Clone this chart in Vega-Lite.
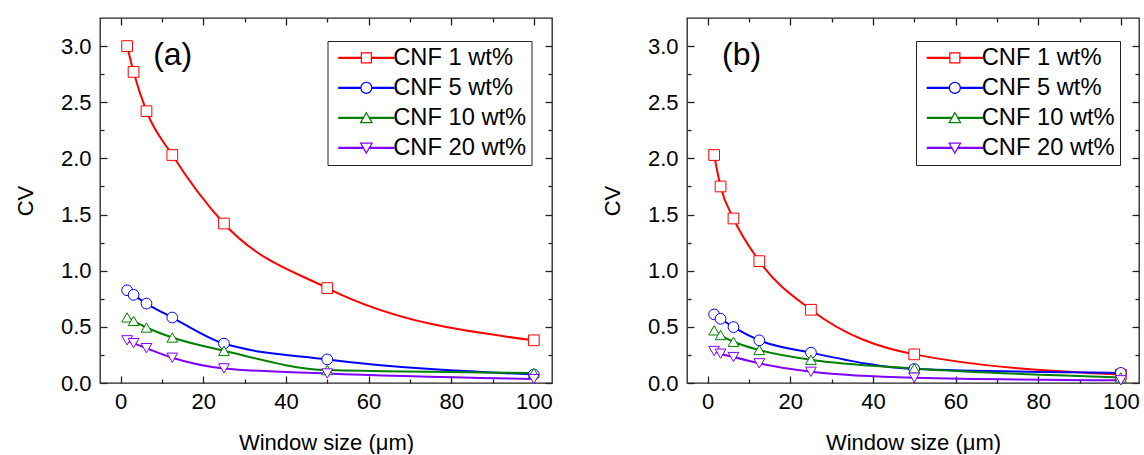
{
"$schema": "https://vega.github.io/schema/vega-lite/v6.json",
"padding": {"left": 13, "top": 16, "right": 0, "bottom": 0},
"background": "white",
"datasets": {"cv": [
{"panel":"a","series":"CNF 1 wt%","w":1.5625,"cv":3.0},
{"panel":"a","series":"CNF 1 wt%","w":3.125,"cv":2.77},
{"panel":"a","series":"CNF 1 wt%","w":6.25,"cv":2.42},
{"panel":"a","series":"CNF 1 wt%","w":12.5,"cv":2.03},
{"panel":"a","series":"CNF 1 wt%","w":25,"cv":1.42},
{"panel":"a","series":"CNF 1 wt%","w":50,"cv":0.845},
{"panel":"a","series":"CNF 1 wt%","w":100,"cv":0.38},
{"panel":"a","series":"CNF 5 wt%","w":1.5625,"cv":0.826},
{"panel":"a","series":"CNF 5 wt%","w":3.125,"cv":0.785},
{"panel":"a","series":"CNF 5 wt%","w":6.25,"cv":0.707},
{"panel":"a","series":"CNF 5 wt%","w":12.5,"cv":0.583},
{"panel":"a","series":"CNF 5 wt%","w":25,"cv":0.351},
{"panel":"a","series":"CNF 5 wt%","w":50,"cv":0.21},
{"panel":"a","series":"CNF 5 wt%","w":100,"cv":0.075},
{"panel":"a","series":"CNF 10 wt%","w":1.5625,"cv":0.584},
{"panel":"a","series":"CNF 10 wt%","w":3.125,"cv":0.553},
{"panel":"a","series":"CNF 10 wt%","w":6.25,"cv":0.494},
{"panel":"a","series":"CNF 10 wt%","w":12.5,"cv":0.405},
{"panel":"a","series":"CNF 10 wt%","w":25,"cv":0.287},
{"panel":"a","series":"CNF 10 wt%","w":50,"cv":0.115},
{"panel":"a","series":"CNF 10 wt%","w":100,"cv":0.09},
{"panel":"a","series":"CNF 20 wt%","w":1.5625,"cv":0.38},
{"panel":"a","series":"CNF 20 wt%","w":3.125,"cv":0.355},
{"panel":"a","series":"CNF 20 wt%","w":6.25,"cv":0.31},
{"panel":"a","series":"CNF 20 wt%","w":12.5,"cv":0.225},
{"panel":"a","series":"CNF 20 wt%","w":25,"cv":0.13},
{"panel":"a","series":"CNF 20 wt%","w":50,"cv":0.085},
{"panel":"a","series":"CNF 20 wt%","w":100,"cv":0.035},
{"panel":"b","series":"CNF 1 wt%","w":1.5625,"cv":2.03},
{"panel":"b","series":"CNF 1 wt%","w":3.125,"cv":1.75},
{"panel":"b","series":"CNF 1 wt%","w":6.25,"cv":1.465},
{"panel":"b","series":"CNF 1 wt%","w":12.5,"cv":1.085},
{"panel":"b","series":"CNF 1 wt%","w":25,"cv":0.652},
{"panel":"b","series":"CNF 1 wt%","w":50,"cv":0.255},
{"panel":"b","series":"CNF 1 wt%","w":100,"cv":0.075},
{"panel":"b","series":"CNF 5 wt%","w":1.5625,"cv":0.611},
{"panel":"b","series":"CNF 5 wt%","w":3.125,"cv":0.572},
{"panel":"b","series":"CNF 5 wt%","w":6.25,"cv":0.498},
{"panel":"b","series":"CNF 5 wt%","w":12.5,"cv":0.38},
{"panel":"b","series":"CNF 5 wt%","w":25,"cv":0.27},
{"panel":"b","series":"CNF 5 wt%","w":50,"cv":0.125},
{"panel":"b","series":"CNF 5 wt%","w":100,"cv":0.09},
{"panel":"b","series":"CNF 10 wt%","w":1.5625,"cv":0.469},
{"panel":"b","series":"CNF 10 wt%","w":3.125,"cv":0.427},
{"panel":"b","series":"CNF 10 wt%","w":6.25,"cv":0.367},
{"panel":"b","series":"CNF 10 wt%","w":12.5,"cv":0.294},
{"panel":"b","series":"CNF 10 wt%","w":25,"cv":0.207},
{"panel":"b","series":"CNF 10 wt%","w":50,"cv":0.13},
{"panel":"b","series":"CNF 10 wt%","w":100,"cv":0.05},
{"panel":"b","series":"CNF 20 wt%","w":1.5625,"cv":0.285},
{"panel":"b","series":"CNF 20 wt%","w":3.125,"cv":0.261},
{"panel":"b","series":"CNF 20 wt%","w":6.25,"cv":0.231},
{"panel":"b","series":"CNF 20 wt%","w":12.5,"cv":0.175},
{"panel":"b","series":"CNF 20 wt%","w":25,"cv":0.1},
{"panel":"b","series":"CNF 20 wt%","w":50,"cv":0.047},
{"panel":"b","series":"CNF 20 wt%","w":100,"cv":0.024}
]},
"hconcat": [
{
"width": 452, "height": 365,
"layer": [
{"data": {"name": "cv"}, "transform": [{"filter": "datum.panel === 'a'"}],
 "mark": {"type": "line", "interpolate": "monotone", "strokeWidth": 2},
 "encoding": {
  "x": {"field": "w", "type": "quantitative", "scale": {"domain": [-5, 104.4], "nice": false, "zero": false},
        "axis": {"orient": "bottom", "values": [0,20,40,60,80,100], "format": "d", "tickSize": -7, "labelPadding": 15, "title": "Window size (μm)", "titlePadding": 20}},
  "y": {"field": "cv", "type": "quantitative", "scale": {"domain": [0, 3.25], "nice": false},
        "axis": {"orient": "left", "values": [0,0.5,1,1.5,2,2.5,3], "format": ".1f", "tickSize": -7, "labelPadding": 16, "title": "CV", "titlePadding": 23}},
  "stroke": {"field": "series", "type": "nominal", "scale": {"domain": ["CNF 1 wt%","CNF 5 wt%","CNF 10 wt%","CNF 20 wt%"], "range": ["#FF0000","#0000FF","#008000","#8000FF"]}, "legend": null}
 }},
{"data": {"name": "cv"}, "transform": [{"filter": "datum.panel === 'a'"}],
 "mark": {"type": "point", "filled": true, "fill": "white", "strokeWidth": 1, "opacity": 1, "size": 115},
 "encoding": {
  "x": {"field": "w", "type": "quantitative", "axis": {"orient": "bottom", "values": [10,30,50,70,90], "tickSize": -4, "labels": false, "title": null}},
  "y": {"field": "cv", "type": "quantitative", "axis": {"orient": "left", "values": [0.25,0.75,1.25,1.75,2.25,2.75], "tickSize": -4, "labels": false, "title": null}},
  "stroke": {"field": "series", "type": "nominal", "legend": null},
  "shape": {"field": "series", "type": "nominal", "scale": {"domain": ["CNF 1 wt%","CNF 5 wt%","CNF 10 wt%","CNF 20 wt%"], "range": ["square","circle","triangle-up","triangle-down"]}, "legend": null}
 }},
{"data": {"name": "cv"}, "transform": [{"filter": "datum.panel === 'a'"}],
 "mark": {"type": "point", "filled": false, "opacity": 0, "size": 100},
 "encoding": {
  "x": {"field": "w", "type": "quantitative", "axis": {"orient": "top", "values": [0,20,40,60,80,100], "tickSize": -7, "labels": false, "title": null}},
  "y": {"field": "cv", "type": "quantitative", "axis": {"orient": "right", "values": [0,0.5,1,1.5,2,2.5,3], "tickSize": -7, "labels": false, "title": null}},
  "color": {"field": "series", "type": "nominal", "scale": {"domain": ["CNF 1 wt%","CNF 5 wt%","CNF 10 wt%","CNF 20 wt%"], "range": ["#FF0000","#0000FF","#008000","#8000FF"]},
    "legend": {"title": null, "orient": "none", "legendX": 227.5, "legendY": 23, "strokeColor": "#222", "fillColor": "white", "padding": 5, "rowPadding": 5, "symbolOffset": 22, "labelOffset": 15, "labelFontSize": 23.7, "labelFont": "Liberation Sans", "labelColor": "black", "symbolStrokeWidth": 1.2, "symbolSize": 100, "symbolOpacity": 1, "labelLimit": 300}},
  "shape": {"field": "series", "type": "nominal", "scale": {"domain": ["CNF 1 wt%","CNF 5 wt%","CNF 10 wt%","CNF 20 wt%"], "range": [
     "M-5.5,-0.1H-1V0.1H-5.5Z M1,-0.1H5.5V0.1H1Z M-1,-1H1V1H-1Z",
     "M-5.5,-0.1H-1.1V0.1H-5.5Z M1.1,-0.1H5.5V0.1H1.1Z M-1.1,0A1.1,1.1,0,1,0,1.1,0A1.1,1.1,0,1,0,-1.1,0Z",
     "M-5.5,-0.1H-0.6V0.1H-5.5Z M0.6,-0.1H5.5V0.1H0.6Z M0,-1.05L-1.15,0.95L1.15,0.95Z",
     "M-5.5,-0.1H-0.6V0.1H-5.5Z M0.6,-0.1H5.5V0.1H0.6Z M0,1.05L-1.15,-0.95L1.15,-0.95Z"]},
    "legend": {"title": null, "orient": "none", "legendX": 227.5, "legendY": 23, "strokeColor": "#222", "fillColor": "white", "padding": 5, "rowPadding": 5, "symbolOffset": 22, "labelOffset": 15, "labelFontSize": 23.7, "labelFont": "Liberation Sans", "labelColor": "black", "symbolStrokeWidth": 1.2, "symbolSize": 100, "symbolOpacity": 1, "labelLimit": 300}}
 }},
{"data": {"values": [{}]},
 "mark": {"type": "text", "text": "(a)", "fontSize": 32, "align": "center", "baseline": "middle", "font": "Liberation Sans", "color": "black"},
 "encoding": {
  "x": {"datum": 12.6, "type": "quantitative", "axis": {"orient": "top", "values": [10,30,50,70,90], "tickSize": -4, "labels": false, "title": null}},
  "y": {"datum": 2.92, "type": "quantitative", "axis": {"orient": "right", "values": [0.25,0.75,1.25,1.75,2.25,2.75], "tickSize": -4, "labels": false, "title": null}}
 }}
],
"resolve": {"scale": {"shape": "independent", "color": "independent"}, "axis": {"x": "independent", "y": "independent"}}
},
{
"width": 452, "height": 365,
"layer": [
{"data": {"name": "cv"}, "transform": [{"filter": "datum.panel === 'b'"}],
 "mark": {"type": "line", "interpolate": "monotone", "strokeWidth": 2},
 "encoding": {
  "x": {"field": "w", "type": "quantitative", "scale": {"domain": [-5, 104.4], "nice": false, "zero": false},
        "axis": {"orient": "bottom", "values": [0,20,40,60,80,100], "format": "d", "tickSize": -7, "labelPadding": 15, "title": "Window size (μm)", "titlePadding": 20}},
  "y": {"field": "cv", "type": "quantitative", "scale": {"domain": [0, 3.25], "nice": false},
        "axis": {"orient": "left", "values": [0,0.5,1,1.5,2,2.5,3], "format": ".1f", "tickSize": -7, "labelPadding": 16, "title": "CV", "titlePadding": 23}},
  "stroke": {"field": "series", "type": "nominal", "scale": {"domain": ["CNF 1 wt%","CNF 5 wt%","CNF 10 wt%","CNF 20 wt%"], "range": ["#FF0000","#0000FF","#008000","#8000FF"]}, "legend": null}
 }},
{"data": {"name": "cv"}, "transform": [{"filter": "datum.panel === 'b'"}],
 "mark": {"type": "point", "filled": true, "fill": "white", "strokeWidth": 1, "opacity": 1, "size": 115},
 "encoding": {
  "x": {"field": "w", "type": "quantitative", "axis": {"orient": "bottom", "values": [10,30,50,70,90], "tickSize": -4, "labels": false, "title": null}},
  "y": {"field": "cv", "type": "quantitative", "axis": {"orient": "left", "values": [0.25,0.75,1.25,1.75,2.25,2.75], "tickSize": -4, "labels": false, "title": null}},
  "stroke": {"field": "series", "type": "nominal", "legend": null},
  "shape": {"field": "series", "type": "nominal", "scale": {"domain": ["CNF 1 wt%","CNF 5 wt%","CNF 10 wt%","CNF 20 wt%"], "range": ["square","circle","triangle-up","triangle-down"]}, "legend": null}
 }},
{"data": {"name": "cv"}, "transform": [{"filter": "datum.panel === 'b'"}],
 "mark": {"type": "point", "filled": false, "opacity": 0, "size": 100},
 "encoding": {
  "x": {"field": "w", "type": "quantitative", "axis": {"orient": "top", "values": [0,20,40,60,80,100], "tickSize": -7, "labels": false, "title": null}},
  "y": {"field": "cv", "type": "quantitative", "axis": {"orient": "right", "values": [0,0.5,1,1.5,2,2.5,3], "tickSize": -7, "labels": false, "title": null}},
  "color": {"field": "series", "type": "nominal", "scale": {"domain": ["CNF 1 wt%","CNF 5 wt%","CNF 10 wt%","CNF 20 wt%"], "range": ["#FF0000","#0000FF","#008000","#8000FF"]},
    "legend": {"title": null, "orient": "none", "legendX": 229, "legendY": 23, "strokeColor": "#222", "fillColor": "white", "padding": 5, "rowPadding": 5, "symbolOffset": 22, "labelOffset": 15, "labelFontSize": 23.7, "labelFont": "Liberation Sans", "labelColor": "black", "symbolStrokeWidth": 1.2, "symbolSize": 100, "symbolOpacity": 1, "labelLimit": 300}},
  "shape": {"field": "series", "type": "nominal", "scale": {"domain": ["CNF 1 wt%","CNF 5 wt%","CNF 10 wt%","CNF 20 wt%"], "range": [
     "M-5.5,-0.1H-1V0.1H-5.5Z M1,-0.1H5.5V0.1H1Z M-1,-1H1V1H-1Z",
     "M-5.5,-0.1H-1.1V0.1H-5.5Z M1.1,-0.1H5.5V0.1H1.1Z M-1.1,0A1.1,1.1,0,1,0,1.1,0A1.1,1.1,0,1,0,-1.1,0Z",
     "M-5.5,-0.1H-0.6V0.1H-5.5Z M0.6,-0.1H5.5V0.1H0.6Z M0,-1.05L-1.15,0.95L1.15,0.95Z",
     "M-5.5,-0.1H-0.6V0.1H-5.5Z M0.6,-0.1H5.5V0.1H0.6Z M0,1.05L-1.15,-0.95L1.15,-0.95Z"]},
    "legend": {"title": null, "orient": "none", "legendX": 229, "legendY": 23, "strokeColor": "#222", "fillColor": "white", "padding": 5, "rowPadding": 5, "symbolOffset": 22, "labelOffset": 15, "labelFontSize": 23.7, "labelFont": "Liberation Sans", "labelColor": "black", "symbolStrokeWidth": 1.2, "symbolSize": 100, "symbolOpacity": 1, "labelLimit": 300}}
 }},
{"data": {"values": [{}]},
 "mark": {"type": "text", "text": "(b)", "fontSize": 32, "align": "center", "baseline": "middle", "font": "Liberation Sans", "color": "black"},
 "encoding": {
  "x": {"datum": 8.2, "type": "quantitative", "axis": {"orient": "top", "values": [10,30,50,70,90], "tickSize": -4, "labels": false, "title": null}},
  "y": {"datum": 2.92, "type": "quantitative", "axis": {"orient": "right", "values": [0.25,0.75,1.25,1.75,2.25,2.75], "tickSize": -4, "labels": false, "title": null}}
 }}
],
"resolve": {"scale": {"shape": "independent", "color": "independent"}, "axis": {"x": "independent", "y": "independent"}}
}
],
"spacing": 135,
"bounds": "flush",
"resolve": {"scale": {"shape": "independent", "stroke": "independent", "color": "independent"}},
"config": {
 "font": "Liberation Sans",
 "view": {"stroke": "#222", "strokeWidth": 1.3},
 "axis": {"grid": false, "domain": false, "labelFont": "Liberation Sans", "labelFontSize": 22, "labelColor": "black", "tickColor": "#222", "tickWidth": 1.3, "titleFont": "Liberation Sans", "titleFontSize": 22, "titleFontWeight": "normal", "titleColor": "black", "labelFlush": false}
}
}
